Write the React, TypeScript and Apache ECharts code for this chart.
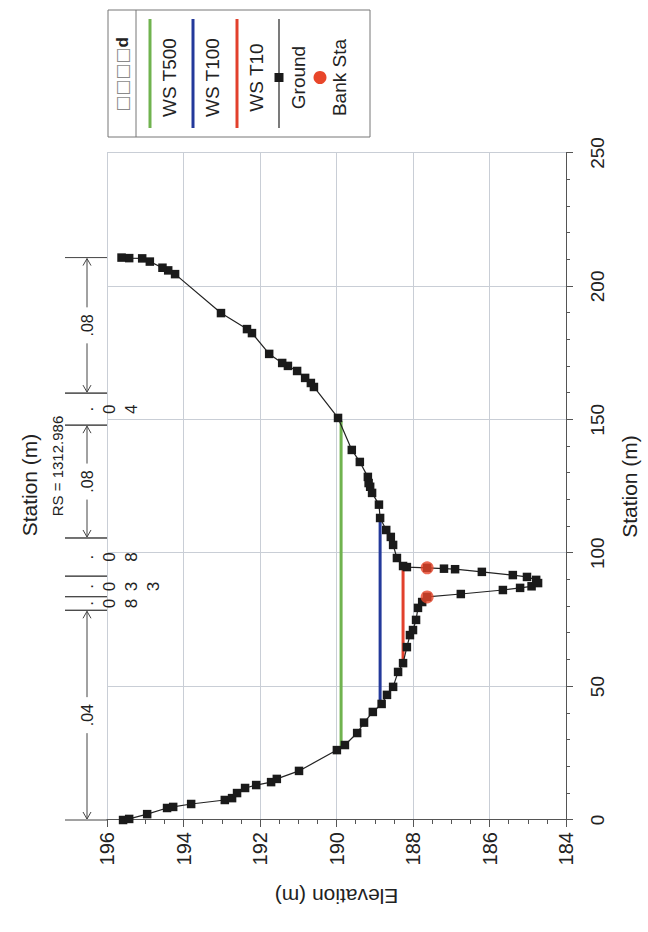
import React, { useEffect, useRef } from "react";
import * as echarts from "echarts";

// ---------- data ----------
const groundStation = [0, 0.4, 2.2, 4.5, 4.9, 6.0, 7.5, 8.2, 10.1, 12.0, 13.1, 14.2, 15.4, 18.4, 26.2, 28.1, 32.6, 36.5, 40.5, 43.5, 46.9, 49.9, 55.5, 58.8, 64.8, 69.3, 71.2, 75.0, 79.5, 81.7, 83.6, 84.7, 86.2, 87.0, 87.6, 88.8, 90.0, 91.1, 91.8, 93.0, 94.0, 94.2, 94.5, 94.8, 95.2, 98.2, 103.1, 106.1, 108.7, 113.2, 118.2, 122.6, 124.9, 126.3, 128.6, 134.2, 138.7, 150.7, 162.3, 163.8, 165.7, 168.3, 170.2, 171.3, 174.7, 182.5, 184.0, 190.0, 204.6, 206.0, 207.0, 209.3, 210.5, 210.6, 210.8];
const groundElevation = [195.58, 195.42, 194.95, 194.43, 194.27, 193.8, 192.92, 192.73, 192.6, 192.39, 192.1, 191.71, 191.56, 190.98, 189.99, 189.78, 189.46, 189.28, 189.05, 188.82, 188.68, 188.52, 188.39, 188.26, 188.16, 188.08, 188.0, 187.92, 187.87, 187.76, 187.63, 186.75, 185.65, 185.2, 184.9, 184.73, 184.78, 185.02, 185.39, 186.2, 186.9, 187.19, 187.63, 188.16, 188.26, 188.42, 188.52, 188.58, 188.7, 188.86, 188.89, 189.07, 189.12, 189.16, 189.18, 189.39, 189.6, 189.96, 190.59, 190.67, 190.82, 191.03, 191.27, 191.42, 191.76, 192.21, 192.34, 193.02, 194.22, 194.4, 194.55, 194.88, 195.08, 195.42, 195.62];

const wsNames = ["WS T500", "WS T100", "WS T10"];
const wsElevation = [189.88, 188.86, 188.26];
const wsStart = [27.2, 42.9, 58.8];
const wsEnd = [149.6, 113.2, 95.2];
const wsColors = ["#70b34f", "#23399b", "#e2402c"];

const bankStation = [83.6, 94.5];
const bankElevation = [187.63, 187.63];

const nStart = [0, 78.6, 83.7, 91.4, 105.7, 148, 160];
const nEnd = [78.6, 83.7, 91.4, 105.7, 148, 160, 210.8];
const nValue = [".04", ".08", ".033", ".08", ".08", ".04", ".08"];

const stationMin = 0;
const stationMax = 250;
const stationInterval = 50;
const elevMin = 184;
const elevMax = 196;
const elevInterval = 2;

const legendTitleBoxes = "□□□□";
const legendTitleTail = "d";
const legendNames = ["WS T500", "WS T100", "WS T10", "Ground", "Bank Sta"];
const chartTitle = "Station (m)";
const rsLabel = "RS = 1312.986";

const FONT = "'Liberation Sans', Arial, sans-serif";

export default function App() {
  const ref = useRef<HTMLDivElement>(null);

  useEffect(() => {
    if (!ref.current) return;
    const chart = echarts.init(ref.current, null, { renderer: "svg" });

    const ground = groundStation.map((s, i) => [s, groundElevation[i]]);
    const banks = bankStation.map((s, i) => [s, bankElevation[i]]);
    const nData = nStart.map((s, i) => [s, nEnd[i]]);

    const wsSeries = wsNames.map((name, i) => ({
      name,
      type: "line",
      data: [
        [wsStart[i], wsElevation[i]],
        [wsEnd[i], wsElevation[i]],
      ],
      symbol: "none",
      lineStyle: { color: wsColors[i], width: 3 },
      z: 2,
      silent: true,
    }));

    const center = { align: "center", verticalAlign: "middle", textAlign: "center", textVerticalAlign: "middle" };

    // legend (drawn in chart coordinates, unrotated frame)
    const lx0 = 795, ly0 = 108, lw = 127, lh = 262;
    const lcx = lx0 + lw / 2 - 4;
    const graphic: any[] = [
      { type: "rect", shape: { x: lx0, y: ly0, width: lw, height: lh }, style: { fill: "#fff", stroke: "#777", lineWidth: 1 } },
      { type: "line", shape: { x1: lx0, y1: ly0 + 28, x2: lx0 + lw, y2: ly0 + 28 }, style: { stroke: "#777", lineWidth: 1 } },
      {
        type: "text",
        style: {
          ...center,
          text: `{b|${legendTitleBoxes}}{d|${legendTitleTail}}`,
          x: lcx + 3,
          y: ly0 + 14,
          rich: {
            b: { fontSize: 17, fill: "#8a8a8a", color: "#8a8a8a", fontFamily: "'DejaVu Sans', sans-serif" },
            d: { fontSize: 17, fontWeight: "bold", fill: "#222", color: "#222", fontFamily: FONT },
          },
        },
      },
      { type: "text", style: { ...center, text: chartTitle, x: 447, y: 29, font: `21px ${FONT}`, fill: "#222" } },
      { type: "text", style: { ...center, text: rsLabel, x: 466, y: 57, font: `15px ${FONT}`, fill: "#222" } },
    ];
    const itemY = [150, 193, 237, 279, 320];
    legendNames.forEach((name, i) => {
      const y = itemY[i];
      if (i < 3) {
        graphic.push({ type: "line", shape: { x1: lx0 + 9, y1: y, x2: lx0 + lw - 9, y2: y }, style: { stroke: wsColors[i], lineWidth: 3 } });
      } else if (i === 3) {
        graphic.push({ type: "line", shape: { x1: lx0 + 9, y1: y, x2: lx0 + lw - 9, y2: y }, style: { stroke: "#222", lineWidth: 1.2 } });
        graphic.push({ type: "rect", shape: { x: lcx - 4.5, y: y - 4.5, width: 9, height: 9 }, style: { fill: "#1a1a1a" } });
      } else {
        graphic.push({ type: "circle", shape: { cx: lcx, cy: y, r: 6.5 }, style: { fill: "#e8462a" } });
      }
      graphic.push({ type: "text", style: { ...center, text: name, x: lcx, y: y + 19, font: `19px ${FONT}`, fill: "#222" } });
    });

    const option: any = {
      animation: false,
      backgroundColor: "#fff",
      grid: { left: 112, right: 153, top: 107, bottom: 82, containLabel: false },
      xAxis: {
        type: "value",
        min: stationMin,
        max: stationMax,
        interval: stationInterval,
        name: "Station (m)",
        nameLocation: "middle",
        nameGap: 53,
        nameTextStyle: { fontSize: 21, color: "#222", fontFamily: FONT },
        axisLine: { show: true, lineStyle: { color: "#555", width: 1 } },
        axisTick: { show: true, length: 7, lineStyle: { color: "#555" } },
        minorTick: { show: true, splitNumber: 5, length: 4, lineStyle: { color: "#555" } },
        axisLabel: { fontSize: 19, color: "#222", margin: 22, fontFamily: FONT },
        splitLine: { show: true, lineStyle: { color: "#c9ced6", width: 1 } },
      },
      yAxis: {
        type: "value",
        min: elevMin,
        max: elevMax,
        interval: elevInterval,
        name: "Elevation (m)",
        nameLocation: "middle",
        nameGap: 66,
        nameTextStyle: { fontSize: 21, color: "#222", fontFamily: FONT },
        axisLine: { show: true, lineStyle: { color: "#555", width: 1 } },
        axisTick: { show: true, length: 7, lineStyle: { color: "#555" } },
        minorTick: { show: true, splitNumber: 4, length: 4, lineStyle: { color: "#555" } },
        axisLabel: { fontSize: 20, color: "#222", margin: 12, fontFamily: FONT },
        splitLine: { show: true, lineStyle: { color: "#c9ced6", width: 1 } },
      },
      graphic,
      series: [
        ...wsSeries,
        {
          name: "Ground",
          type: "line",
          data: ground,
          symbol: "rect",
          symbolSize: 8.5,
          showAllSymbol: true,
          itemStyle: { color: "#1a1a1a" },
          lineStyle: { color: "#222", width: 1.2 },
          z: 3,
          silent: true,
        },
        {
          name: "Bank Sta",
          type: "scatter",
          data: banks,
          symbol: "circle",
          symbolSize: 13,
          itemStyle: { color: "#e8462a" },
          z: 4,
          silent: true,
        },
        {
          name: "n",
          type: "custom",
          data: nData,
          clip: false,
          silent: true,
          z: 5,
          renderItem: (params: any, api: any) => {
            const i = params.dataIndex;
            const p0 = api.coord([api.value(0), elevMax]);
            const p1 = api.coord([api.value(1), elevMax]);
            const x0 = p0[0];
            const x1 = p1[0];
            const top = p0[1];
            const yA = top - 20;
            const label = nValue[i];
            const stroke = "#444";
            const children: any[] = [
              { type: "line", shape: { x1: x0, y1: top - 42, x2: x0, y2: top }, style: { stroke, lineWidth: 1 } },
              { type: "line", shape: { x1: x1, y1: top - 42, x2: x1, y2: top }, style: { stroke, lineWidth: 1 } },
            ];
            const cx = (x0 + x1) / 2;
            if (x1 - x0 > 60) {
              const half = 18;
              children.push(
                { type: "line", shape: { x1: x0 + 1, y1: yA, x2: cx - half, y2: yA }, style: { stroke, lineWidth: 1 } },
                { type: "line", shape: { x1: cx + half, y1: yA, x2: x1 - 1, y2: yA }, style: { stroke, lineWidth: 1 } },
                { type: "polyline", shape: { points: [[x0 + 8, yA - 4], [x0 + 1, yA], [x0 + 8, yA + 4]] }, style: { stroke, fill: "none", lineWidth: 1 } },
                { type: "polyline", shape: { points: [[x1 - 8, yA - 4], [x1 - 1, yA], [x1 - 8, yA + 4]] }, style: { stroke, fill: "none", lineWidth: 1 } },
                { type: "text", style: { ...center, text: label, x: cx, y: yA, font: `16px ${FONT}`, fill: "#222" } }
              );
            } else {
              children.push({
                type: "text",
                style: {
                  text: label.split("").join("\n"),
                  x: cx,
                  y: top - 31,
                  align: "center",
                  verticalAlign: "top",
                  textAlign: "center",
                  textVerticalAlign: "top",
                  font: `17px ${FONT}`,
                  lineHeight: 22,
                  fill: "#222",
                },
              });
            }
            return { type: "group", children };
          },
        },
      ],
    };

    chart.setOption(option);
    return () => chart.dispose();
  }, []);

  return (
    <div style={{ position: "absolute", left: 0, top: 0, width: 648, height: 932, overflow: "hidden", background: "#fff" }}>
      <div
        ref={ref}
        style={{
          position: "absolute",
          left: 0,
          top: 0,
          width: 932,
          height: 648,
          transform: "translateY(932px) rotate(-90deg)",
          transformOrigin: "0 0",
        }}
      />
    </div>
  );
}
